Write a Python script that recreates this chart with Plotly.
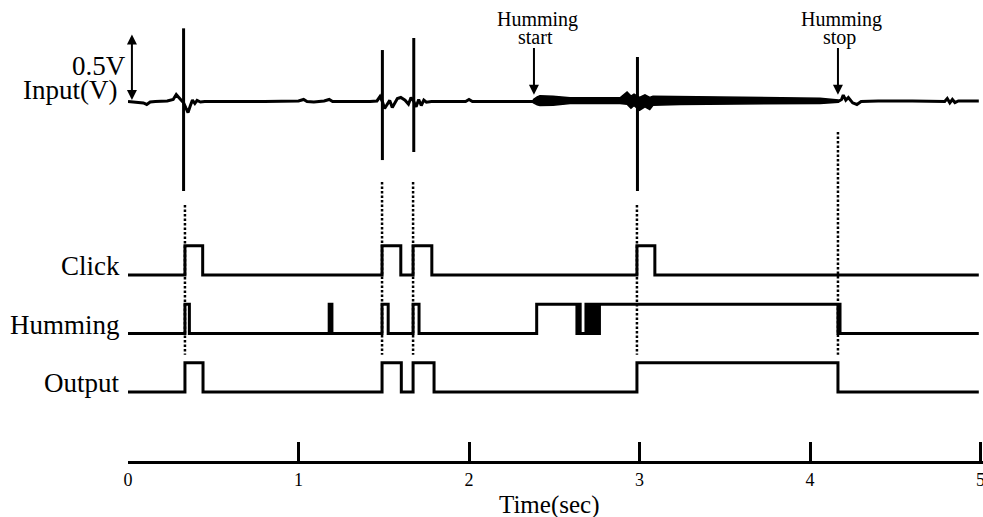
import plotly.graph_objects as go

# ---------------- data ----------------
TICK_VALUES = [0, 1, 2, 3, 4, 5]
TICK_LABELS = ["0", "1", "2", "3", "4", "5"]
T_END = 4.99

# input waveform (time in s, volts)
input_t = [0.000, 0.060, 0.090, 0.110, 0.130, 0.160, 0.230, 0.265, 0.283, 0.298,
           0.315, 0.326, 0.340, 0.352, 0.366, 0.378, 0.392, 0.405, 0.425, 0.450,
           0.800, 1.000, 1.030, 1.050, 1.090, 1.150, 1.180, 1.200, 1.420, 1.460,
           1.478, 1.492, 1.505, 1.520, 1.535, 1.550, 1.565, 1.580, 1.600, 1.625,
           1.645, 1.660, 1.676, 1.690, 1.705, 1.720, 1.735, 1.750, 1.780, 1.980,
           2.000, 2.020, 2.380, 3.000, 4.165, 4.185, 4.195, 4.210, 4.225, 4.250,
           4.275, 4.300, 4.400, 4.600, 4.790, 4.805, 4.820, 4.835, 4.850, 4.870,
           4.950, 4.990]
input_v = [0.000, -0.004, -0.011, -0.022, -0.004, 0.000, 0.004, 0.015, 0.052, 0.030,
           0.007, -0.010, -0.050, -0.082, -0.030, 0.010, -0.015, 0.008, -0.004, 0.000,
           0.000, 0.004, 0.015, 0.000, -0.004, 0.004, 0.015, 0.000, 0.000, 0.004,
           0.037, 0.000, -0.052, -0.020, 0.008, -0.045, -0.015, 0.022, 0.030, 0.010,
           -0.020, 0.030, 0.000, -0.040, 0.015, -0.030, 0.010, -0.005, 0.000, 0.000,
           0.015, 0.000, 0.000, 0.000, 0.000, 0.015, 0.048, 0.010, 0.030, -0.010,
           -0.022, 0.000, 0.004, 0.004, 0.000, 0.022, -0.010, 0.015, -0.008, 0.004,
           0.004, 0.004]

# click spikes on the input
spike_t = [0.326, 1.492, 1.676, 2.988]
spike_top_v = [0.546, 0.384, 0.474, 0.332]
spike_bottom_v = [-0.668, -0.437, -0.377, -0.668]

# humming band envelope on the input
hum_t = [2.375, 2.400, 2.416, 2.493, 2.592, 2.886, 2.927, 2.950, 2.968, 3.000, 3.032, 3.060,
         3.079, 3.238, 3.472, 3.707, 4.059, 4.164]
hum_upper_v = [0.012, 0.035, 0.042, 0.040, 0.028, 0.028, 0.070, 0.040, 0.055, 0.030, 0.050, 0.030,
               0.040, 0.038, 0.034, 0.028, 0.024, 0.012]
hum_lower_v = [-0.008, -0.025, -0.030, -0.028, -0.015, -0.015, -0.020, -0.050, -0.030, -0.065, -0.040, -0.060,
               -0.028, -0.022, -0.020, -0.017, -0.014, -0.006]

# digital signals: toggle times (start low)
click_edges = [0.334, 0.438, 1.490, 1.600, 1.672, 1.782, 2.985, 3.090]
humming_edges = [0.334, 0.360, 1.180, 1.196, 1.490, 1.526, 1.672, 1.707, 2.397, 2.633,
                 2.645, 2.652, 2.686, 2.693, 2.699, 2.706, 2.712, 2.719, 2.725, 2.732,
                 2.738, 2.745, 2.751, 2.758, 2.765, 4.164, 4.170, 4.176]
output_edges = [0.334, 0.440, 1.490, 1.603, 1.672, 1.795, 2.985, 4.164]

hum_start_t = 2.381
hum_stop_t = 4.164
scale_v = 0.5
scale_label = "0.5V"
input_label = "Input(V)"
row_names = ["Click", "Humming", "Output"]
row_edges = [click_edges, humming_edges, output_edges]
x_title = "Time(sec)"

# ---------------- layout constants ----------------
W, H = 983, 517
FONT = "Liberation Serif"
X0_PX, PX_PER_S = 128.0, 170.5
IN_BASE_PX, PX_PER_V = 101.5, 134.0
OUT_BASE_PX, PX_PER_UNIT = 392.0, 29.25
ROW_OFFSETS = [4, 2, 0]
AXIS_PX = 462.0
LW = 3


def py(p):
    return 1 - p / H


def v_to_px(v):
    return IN_BASE_PX - v * PX_PER_V


fig = go.Figure()

# input waveform
fig.add_trace(go.Scatter(x=input_t, y=input_v, mode="lines",
                         line=dict(color="black", width=LW), xaxis="x", yaxis="y"))
# humming band
fig.add_trace(go.Scatter(x=hum_t + hum_t[::-1], y=hum_upper_v + hum_lower_v[::-1],
                         mode="lines", fill="toself", fillcolor="black",
                         line=dict(color="black", width=1.5), xaxis="x", yaxis="y"))
# spikes
sx, sy = [], []
for t, a, b in zip(spike_t, spike_top_v, spike_bottom_v):
    sx += [t, t, None]
    sy += [a, b, None]
fig.add_trace(go.Scatter(x=sx, y=sy, mode="lines",
                         line=dict(color="black", width=LW), xaxis="x", yaxis="y"))

# digital rows
for edges, off in zip(row_edges, ROW_OFFSETS):
    xs = [0.0] + edges + [T_END]
    ys = [off]
    lvl = 0
    for _ in edges:
        lvl = 1 - lvl
        ys.append(off + lvl)
    ys.append(off + lvl)
    fig.add_trace(go.Scatter(x=xs, y=ys, mode="lines", line_shape="hv",
                             line=dict(color="black", width=LW), xaxis="x", yaxis="y2"))

# dotted event lines
shapes = []
dot_bottom_px = OUT_BASE_PX - 1.27 * PX_PER_UNIT
onsets = click_edges[::2]
for t, b in zip(onsets, spike_bottom_v):
    top_px = max(v_to_px(b) + 14, 182)
    shapes.append(dict(type="line", xref="x", yref="paper", x0=t, x1=t,
                       y0=py(top_px), y1=py(dot_bottom_px),
                       line=dict(color="black", width=2.5, dash="2.5px,2px")))
shapes.append(dict(type="line", xref="x", yref="paper", x0=hum_stop_t, x1=hum_stop_t,
                   y0=py(v_to_px(-0.228)), y1=py(dot_bottom_px),
                   line=dict(color="black", width=2.5, dash="2.5px,2px")))

ann = []
# row labels
for name, off in zip(row_names, ROW_OFFSETS):
    ann.append(dict(text=name, xref="paper", yref="y2", x=122 / W, y=off + 0.3,
                    xanchor="right", yanchor="middle", showarrow=False,
                    font=dict(family=FONT, size=27, color="black")))
ann.append(dict(text=input_label, xref="paper", yref="y", x=119 / W, y=0.085,
                xanchor="right", yanchor="middle", showarrow=False,
                font=dict(family=FONT, size=27, color="black")))
ann.append(dict(text=scale_label, xref="paper", yref="y", x=128 / W, y=0.262,
                xanchor="right", yanchor="middle", showarrow=False,
                font=dict(family=FONT, size=27, color="black")))
# 0.5 V scale arrow
ann.append(dict(text="", x=0.023, y=scale_v, ax=0.023, ay=0.0, xref="x", yref="y",
                axref="x", ayref="y", showarrow=True, arrowhead=2, arrowsize=1,
                arrowwidth=2, arrowside="end+start", arrowcolor="black"))
# humming start/stop arrows and labels
for t, word in [(hum_start_t, "start"), (hum_stop_t, "stop")]:
    ann.append(dict(text="", x=t, y=0.05, ax=t, ay=0.41, xref="x", yref="y",
                    axref="x", ayref="y", showarrow=True, arrowhead=2, arrowsize=1,
                    arrowwidth=2, arrowcolor="black"))
    ann.append(dict(text="Humming", xref="x", yref="paper", x=t + 0.02, y=py(20),
                    xanchor="center", yanchor="middle", showarrow=False,
                    font=dict(family=FONT, size=20, color="black")))
    ann.append(dict(text=word, xref="x", yref="paper", x=t + 0.01, y=py(37),
                    xanchor="center", yanchor="middle", showarrow=False,
                    font=dict(family=FONT, size=20, color="black")))
# x title
ann.append(dict(text=x_title, xref="x", yref="paper", x=2.47, y=py(505),
                xanchor="center", yanchor="middle", showarrow=False,
                font=dict(family=FONT, size=25, color="black")))

x_max = (W - X0_PX) / PX_PER_S
fig.update_layout(
    width=W, height=H, margin=dict(l=0, r=0, t=0, b=0),
    paper_bgcolor="white", plot_bgcolor="white", showlegend=False,
    template="none",
    xaxis=dict(domain=[X0_PX / W, 1.0], range=[0, x_max], anchor="free",
               position=py(AXIS_PX), showline=True, linecolor="black", linewidth=LW,
               ticks="inside", ticklen=19, tickwidth=LW, tickcolor="black",
               tickvals=TICK_VALUES, ticktext=TICK_LABELS, showgrid=False, zeroline=False,
               ticklabeloverflow="allow",
               tickfont=dict(family=FONT, size=18, color="black"), automargin=False),
    yaxis=dict(domain=[0, 1], range=[-(H - IN_BASE_PX) / PX_PER_V, IN_BASE_PX / PX_PER_V],
               visible=False, anchor="x"),
    yaxis2=dict(domain=[0, 1], overlaying="y",
                range=[-(H - OUT_BASE_PX) / PX_PER_UNIT, OUT_BASE_PX / PX_PER_UNIT],
                visible=False, anchor="x"),
    shapes=shapes, annotations=ann,
)

fig.write_html(
    "out.html",
    config={"displayModeBar": False},
    post_script="document.documentElement.style.margin='0';"
                "document.body.style.margin='0';document.body.style.overflow='hidden';",
)
